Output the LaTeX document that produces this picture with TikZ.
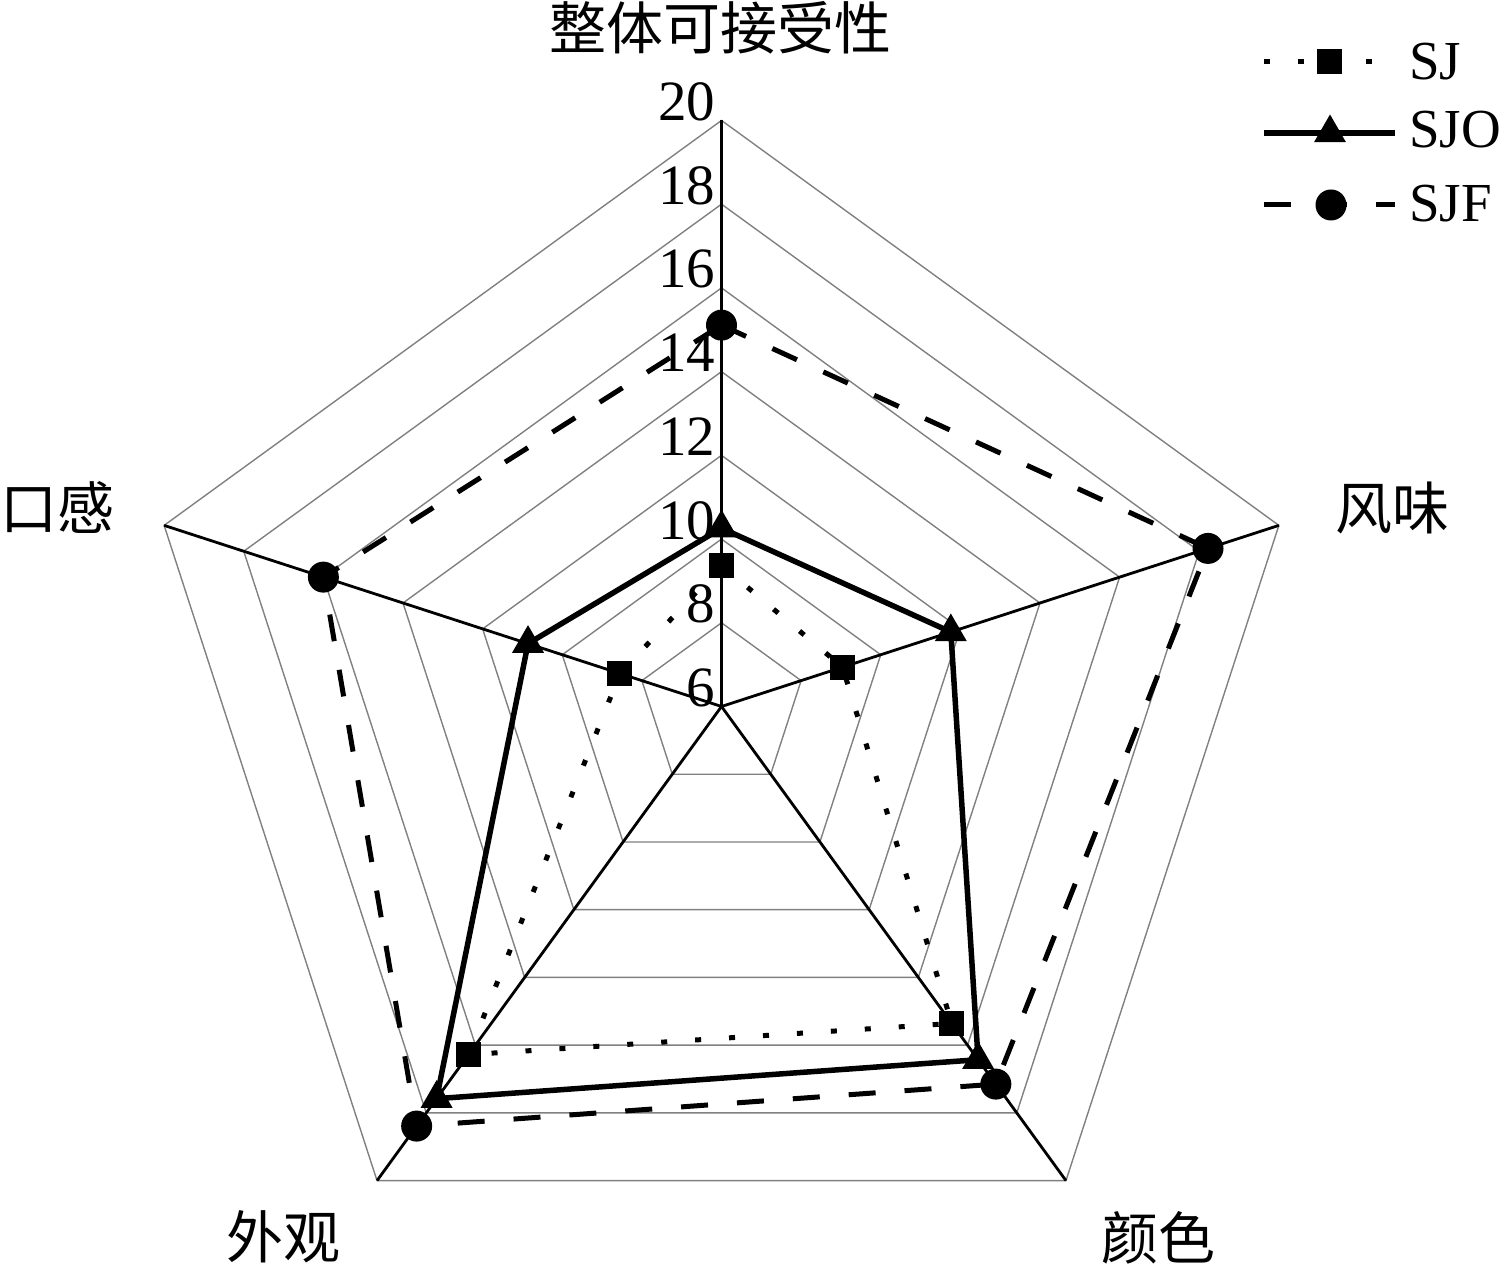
\documentclass[tikz,border=0pt]{standalone}
\usepackage{fontspec}
\setmainfont{Liberation Serif}
\newfontfamily\cjk{Noto Sans CJK SC}
\usetikzlibrary{shapes.geometric}
\begin{document}
\begin{tikzpicture}[x=1pt,y=1pt,
  ring/.style={draw={rgb,255:red,128;green,128;blue,128}, line width=1.4},
  spoke/.style={draw=black, line width=2.8},
  sj/.style={line width=5, dash pattern=on 6 off 28},
  sjo/.style={line width=5.5},
  sjf/.style={line width=5, dash pattern=on 27 off 29},
  sqmark/.style={rectangle, fill=black, minimum size=25, inner sep=0},
  trimark/.style={regular polygon, regular polygon sides=3, fill=black, minimum size=37, inner sep=0},
  cirmark/.style={circle, fill=black, minimum size=31, inner sep=0},
  axislabel/.style={font=\cjk\fontsize{57}{60}\selectfont, inner sep=0},
  ticklabel/.style={font=\fontsize{57}{60}\selectfont, anchor=base east, inner sep=0},
  legtext/.style={font=\fontsize{55}{58}\selectfont, anchor=base west, inner sep=0},
]
\useasboundingbox (0,0) rectangle (1505,1266);
\coordinate (O) at (721.5,559.5);
\begin{scope}[shift={(O)}]
  % grid rings
  \foreach \v in {8,10,...,20} {
    \pgfmathsetmacro\r{(\v-6)*41.86}
    \draw[ring] (90:\r) -- (18:\r) -- (-54:\r) -- (-126:\r) -- (162:\r) -- cycle;
  }
  % axis ends
  \coordinate (eT) at (90:586);
  \coordinate (eR) at (18:586);
  \coordinate (eBR) at (-54:586);
  \coordinate (eBL) at (-126:586);
  \coordinate (eL) at (162:586);
  \coordinate (C) at (0,0);
  \foreach \e in {eT,eR,eBR,eBL,eL} \draw[spoke] (C) -- (\e);
  % tick labels
  \foreach \v in {6,8,...,20} {
    \pgfmathsetmacro\r{(\v-6)*41.86}
    \node[ticklabel] (t\v) at (-6,\r) {\v};
  }
  % data points
  \coordinate (a1) at (90:{(9.37-6)*41.86});
  \coordinate (a2) at (18:{(9.04-6)*41.86});
  \coordinate (a3) at (-54:{(15.36-6)*41.86});
  \coordinate (a4) at (-126:{(16.28-6)*41.86});
  \coordinate (a5) at (162:{(8.55-6)*41.86});
  \coordinate (b1) at (90:{(10.26-6)*41.86});
  \coordinate (b2) at (18:{(11.76-6)*41.86});
  \coordinate (b3) at (-54:{(16.43-6)*41.86});
  \coordinate (b4) at (-126:{(17.58-6)*41.86});
  \coordinate (b5) at (162:{(10.86-6)*41.86});
  \coordinate (c1) at (90:{(15.11-6)*41.86});
  \coordinate (c2) at (18:{(18.22-6)*41.86});
  \coordinate (c3) at (-54:{(17.15-6)*41.86});
  \coordinate (c4) at (-126:{(18.39-6)*41.86});
  \coordinate (c5) at (162:{(16.0-6)*41.86});
\end{scope}
% SJ
\draw[sj] (a1) -- (a2) -- (a3) -- (a4) -- (a5) -- cycle;
\foreach \p in {a1,a2,a3,a4,a5} \node[sqmark] (m\p) at (\p) {};
% SJO
\draw[sjo] (b1) -- (b2) -- (b3) -- (b4) -- (b5) -- cycle;
\foreach \p in {b1,b2,b3,b4,b5} \node[trimark] (m\p) at (\p) {};
% SJF
\draw[sjf] (c1) -- (c2) -- (c3) -- (c4) -- (c5) -- cycle;
\foreach \p in {c1,c2,c3,c4,c5} \node[cirmark] (m\p) at (\p) {};
% axis labels
\node[axislabel] (lT) at (720,1238) {整体可接受性};
\node[axislabel] (lR) at (1392,758) {风味};
\node[axislabel] (lL) at (58,758) {口感};
\node[axislabel] (lBL) at (283,29) {外观};
\node[axislabel] (lBR) at (1158,28) {颜色};
% legend
\coordinate (g1a) at (1264,1204); \coordinate (g1b) at (1395,1204);
\draw[sj] (g1a) -- (g1b);
\node[sqmark] (g1m) at (1329.5,1204) {};
\node[legtext] (g1t) at (1409,1186) {SJ};
\coordinate (g2a) at (1264,1133); \coordinate (g2b) at (1395,1133);
\draw[sjo] (g2a) -- (g2b);
\node[trimark] (g2m) at (1330,1133) {};
\node[legtext] (g2t) at (1409,1118) {SJO};
\coordinate (g3a) at (1264,1061); \coordinate (g3b) at (1395,1061);
\draw[sjf] (g3a) -- (g3b);
\node[cirmark] (g3m) at (1331,1061) {};
\node[legtext] (g3t) at (1409,1044) {SJF};
\end{tikzpicture}
\end{document}
